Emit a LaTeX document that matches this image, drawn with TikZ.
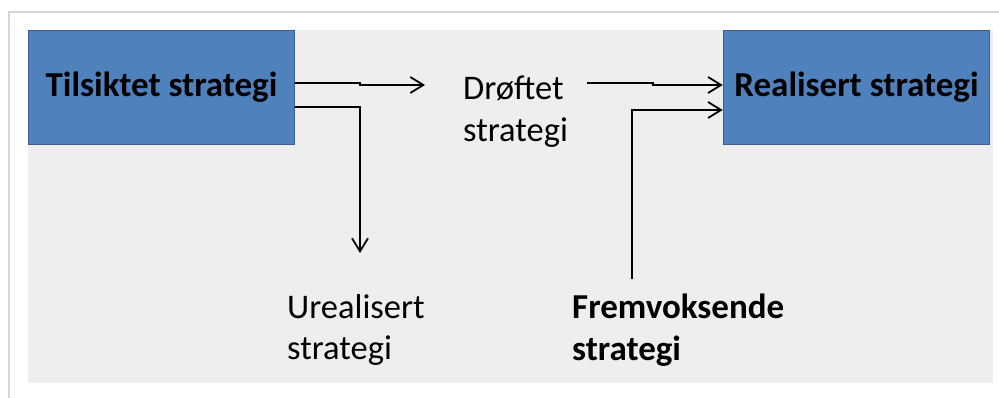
\documentclass[tikz,border=0pt]{standalone}
\usepackage{fontspec}
\setmainfont{Carlito}
\usetikzlibrary{positioning, arrows.meta}

\definecolor{boxblue}{HTML}{4F81BD}
\definecolor{boxedge}{HTML}{3A5F8E}
\definecolor{panelgray}{HTML}{EEEEEE}
\definecolor{framegray}{HTML}{D6D6D6}

\tikzset{
  stratbox/.style = {draw=boxedge, line width=1.5pt, fill=boxblue,
    minimum width=266pt, minimum height=114pt, inner sep=0pt,
    font=\fontsize{35}{41.5}\selectfont\bfseries},
  strattext/.style = {align=left, inner sep=0pt, anchor=base west,
    font=\fontsize{34.5}{41.5}\selectfont},
  flow/.style = {line width=1.8pt,
    -{Straight Barb[length=13pt, width=16pt, line width=1.8pt]}}
}

\begin{document}
\begin{tikzpicture}[x=1pt, y=1pt]
  \useasboundingbox (0,0) rectangle (999,-398);
  \fill [white] (0,0) rectangle (999,-398);
  \draw [framegray, line width=2pt] (9,-398) -- (9,-12) -- (999,-12);
  \fill [panelgray] (28,-30) rectangle (993,-383);

  \node [stratbox] (tilsiktet) at (161.5,-87.5) {Tilsiktet strategi};
  \node [stratbox] (realisert) at (856.5,-87.5) {Realisert strategi};

  % base anchor sits on the last line
  \node [strattext] (droftet) at (463,-141.5) {Drøftet\\strategi};
  \node [strattext] (urealisert) at (287,-359.5) {Urealisert\\strategi};
  \node [strattext, font=\fontsize{35}{41.5}\selectfont\bfseries] (fremvoksende) at (572,-360) {Fremvoksende\\strategi};

  \coordinate (droftet-in) at (425,-85);
  \coordinate (droftet-out) at (587,-83);
  \coordinate (urealisert-in) at (360,-253);
  \coordinate (fremvoksende-out) at (632,-279);

  \draw [flow] ([yshift=4.5]tilsiktet.east) -- ++(65,0) |- (droftet-in);
  \draw [flow] ([yshift=-19.5]tilsiktet.east) -| (urealisert-in);
  \draw [flow] (droftet-out) -- ++(66,0) |- ([yshift=2.5]realisert.west);
  \draw [flow] (fremvoksende-out) |- ([yshift=-22.5]realisert.west);
\end{tikzpicture}
\end{document}
